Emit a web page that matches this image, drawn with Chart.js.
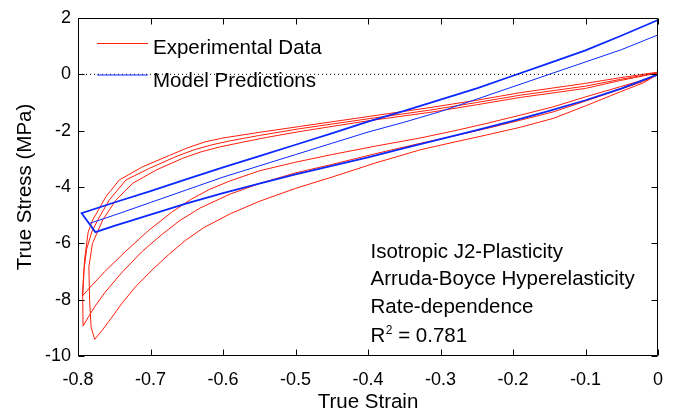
<!DOCTYPE html>
<html><head><meta charset="utf-8">
<script src="https://cdn.jsdelivr.net/npm/chart.js@4"></script>
<style>html,body{margin:0;padding:0;background:#fff;}</style>
</head><body>
<canvas id="c" width="678" height="415"></canvas>
<script>
// ---------- DATA ----------
const xTicks = [-0.8, -0.7, -0.6, -0.5, -0.4, -0.3, -0.2, -0.1, 0];
const yTicks = [-10, -8, -6, -4, -2, 0, 2];

// Experimental loop A (peak ~ -7.9 MPa): loading then unloading
const loopAStrain = [0, -0.02, -0.052, -0.1, -0.144, -0.19, -0.236, -0.28, -0.328, -0.39, -0.45, -0.5, -0.549, -0.59, -0.62, -0.645, -0.67, -0.703, -0.735, -0.763, -0.781, -0.794,
  -0.792, -0.788, -0.781, -0.7728, -0.7568, -0.7338, -0.7017, -0.6648, -0.64, -0.615, -0.59, -0.55, -0.494, -0.4, -0.3145, -0.25, -0.19, -0.1, -0.052, 0];
const loopAStress = [0, -0.2, -0.44, -0.8, -1.15, -1.45, -1.74, -2.0, -2.26, -2.55, -2.85, -3.12, -3.42, -3.78, -4.1, -4.45, -4.88, -5.55, -6.3, -7.0, -7.5, -7.87,
  -7.0, -6.2, -5.6, -5.17, -4.46, -3.75, -3.34, -2.92, -2.68, -2.5, -2.36, -2.17, -1.93, -1.58, -1.27, -1.0, -0.74, -0.42, -0.18, 0.06];

// Experimental loop B (peak ~ -8.9 MPa)
const loopBStrain = [0, -0.02, -0.052, -0.1, -0.144, -0.19, -0.236, -0.28, -0.328, -0.39, -0.45, -0.5, -0.549, -0.59, -0.632, -0.66, -0.685, -0.712, -0.74, -0.763, -0.777, -0.786, -0.793,
  -0.7935, -0.791, -0.786, -0.7797, -0.7614, -0.743, -0.7108, -0.674, -0.65, -0.625, -0.6, -0.55, -0.494, -0.4, -0.3145, -0.25, -0.19, -0.1, -0.052, 0];
const loopBStress = [0, -0.25, -0.53, -0.95, -1.33, -1.63, -1.92, -2.18, -2.45, -2.82, -3.2, -3.5, -3.87, -4.25, -4.75, -5.2, -5.7, -6.3, -7.05, -7.75, -8.25, -8.63, -8.93,
  -7.9, -6.6, -5.6, -5.17, -4.34, -3.75, -3.28, -2.88, -2.62, -2.4, -2.26, -2.06, -1.85, -1.5, -1.18, -0.92, -0.65, -0.32, -0.12, 0.08];

// Experimental loop C (peak ~ -9.4 MPa)
const loopCStrain = [0, -0.02, -0.052, -0.1, -0.144, -0.19, -0.236, -0.28, -0.328, -0.39, -0.45, -0.5, -0.549, -0.59, -0.627, -0.652, -0.675, -0.698, -0.721, -0.74, -0.754, -0.767, -0.777,
  -0.782, -0.784, -0.785, -0.78, -0.7659, -0.7476, -0.7246, -0.6924, -0.6556, -0.63, -0.605, -0.575, -0.54, -0.494, -0.4, -0.3145, -0.25, -0.19, -0.1, -0.052, 0];
const loopCStress = [0, -0.3, -0.62, -1.12, -1.56, -1.88, -2.15, -2.4, -2.68, -3.15, -3.65, -4.05, -4.5, -4.95, -5.45, -5.9, -6.4, -6.95, -7.55, -8.15, -8.65, -9.1, -9.41,
  -8.96, -8.0, -6.83, -6.0, -5.17, -4.46, -3.87, -3.4, -2.98, -2.75, -2.58, -2.42, -2.24, -2.03, -1.65, -1.35, -1.08, -0.82, -0.5, -0.22, 0.05];

// Model predictions: loading branch, main unloading branch, secondary unloading branch
const modelLoadStrain = [0, -0.05, -0.1, -0.15, -0.2, -0.25, -0.3, -0.35, -0.4, -0.45, -0.5, -0.55, -0.6, -0.65, -0.7, -0.75, -0.776];
const modelLoadStress = [0, -0.5, -0.92, -1.3, -1.65, -1.98, -2.3, -2.62, -2.95, -3.25, -3.55, -3.88, -4.22, -4.58, -4.98, -5.38, -5.6];
const modelUnloadStrain = [-0.795, -0.75, -0.7, -0.65, -0.6, -0.55, -0.5, -0.45, -0.4, -0.35, -0.3, -0.25, -0.2, -0.15, -0.1, -0.05, 0];
const modelUnloadStress = [-4.93, -4.55, -4.15, -3.72, -3.3, -2.9, -2.5, -2.1, -1.68, -1.3, -0.9, -0.5, -0.05, 0.4, 0.85, 1.38, 1.93];
const modelThinStrain = [-0.784, -0.75, -0.7, -0.65, -0.6, -0.55, -0.5, -0.45, -0.4, -0.35, -0.3, -0.25, -0.2, -0.15, -0.1, -0.05, 0];
const modelThinStress = [-5.29, -5.0, -4.55, -4.1, -3.65, -3.25, -2.85, -2.45, -2.05, -1.7, -1.32, -0.88, -0.44, 0.0, 0.44, 0.88, 1.40];

const zeroStrain = [-0.8, 0];
const zeroStress = [0, 0];

const legendLabels = ['Experimental Data', 'Model Predictions'];
const noteLines = ['Isotropic J2-Plasticity', 'Arruda-Boyce Hyperelasticity', 'Rate-dependence'];
const rSquared = '0.781';

// ---------- BUILD ----------
const pts = (xs, ys) => xs.map((x, i) => ({x: x, y: ys[i]}));
const RED = 'rgb(255,30,10)';
const BLUE = 'rgb(10,40,255)';
const FONT = '"Liberation Sans", Arial, Helvetica, sans-serif';

const base = {showLine: true, pointRadius: 0, tension: 0, fill: false, clip: 3};
const datasets = [
  Object.assign({}, base, {label: 'zero', data: pts(zeroStrain, zeroStress), borderColor: '#000', borderWidth: 1, borderDash: [1, 3], order: 0}),
  Object.assign({}, base, {label: 'Model', data: pts(modelLoadStrain, modelLoadStress).concat(pts(modelUnloadStrain, modelUnloadStress)), borderColor: BLUE, borderWidth: 1.8, order: 1}),
  Object.assign({}, base, {label: 'Model thin', data: pts(modelThinStrain, modelThinStress), borderColor: BLUE, borderWidth: 1, order: 2}),
  Object.assign({}, base, {label: 'Exp A', data: pts(loopAStrain, loopAStress), borderColor: RED, borderWidth: 1, order: 3}),
  Object.assign({}, base, {label: 'Exp B', data: pts(loopBStrain, loopBStress), borderColor: RED, borderWidth: 1, order: 4}),
  Object.assign({}, base, {label: 'Exp C', data: pts(loopCStrain, loopCStress), borderColor: RED, borderWidth: 1, order: 5}),
];

const framePlugin = {
  id: 'frame',
  afterDatasetsDraw(chart) {
    const ctx = chart.ctx;
    const a = chart.chartArea;
    const xs = chart.scales.x, ys = chart.scales.y;
    const L = Math.round(a.left) + 0.5, R = Math.round(a.right) - 0.5;
    const T = Math.round(a.top) + 0.5, B = Math.round(a.bottom) - 0.5;
    ctx.save();
    ctx.strokeStyle = '#000';
    ctx.lineWidth = 1;
    ctx.beginPath();
    ctx.rect(L, T, R - L, B - T);
    const tl = 6;
    xTicks.forEach(v => {
      const px = Math.round(xs.getPixelForValue(v)) + 0.5;
      ctx.moveTo(px, B); ctx.lineTo(px, B - tl);
      ctx.moveTo(px, T); ctx.lineTo(px, T + tl);
    });
    yTicks.forEach(v => {
      const py = Math.round(ys.getPixelForValue(v)) + 0.5;
      ctx.moveTo(L, py); ctx.lineTo(L + tl, py);
      ctx.moveTo(R, py); ctx.lineTo(R - tl, py);
    });
    ctx.stroke();

    // legend
    const lx = a.left + 19, lw = 51;
    ctx.font = '20.5px ' + FONT;
    ctx.fillStyle = '#000';
    ctx.textBaseline = 'alphabetic';
    ctx.textAlign = 'left';
    [[RED, 43.5, 54.3], [BLUE, 75, 87.3]].forEach((row, i) => {
      ctx.strokeStyle = row[0];
      ctx.beginPath();
      ctx.moveTo(lx, row[1]); ctx.lineTo(lx + lw, row[1]);
      ctx.stroke();
      ctx.fillText(legendLabels[i], lx + lw + 5, row[2]);
    });

    // annotation
    const nx = 370.5;
    const baselines = [257.7, 285.3, 313.3, 341.7];
    noteLines.forEach((t, i) => ctx.fillText(t, nx, baselines[i]));
    ctx.fillText('R', nx, baselines[3]);
    const rw = ctx.measureText('R').width;
    ctx.font = '12px ' + FONT;
    ctx.fillText('2', nx + rw + 0.5, baselines[3] - 8);
    const sw = ctx.measureText('2').width;
    ctx.font = '20.5px ' + FONT;
    ctx.fillText(' = ' + rSquared, nx + rw + sw + 0.5, baselines[3]);
    ctx.restore();
  }
};

new Chart(document.getElementById('c'), {
  type: 'scatter',
  data: {datasets: datasets},
  options: {
    responsive: false,
    devicePixelRatio: 1,
    animation: false,
    layout: {padding: {top: 18, right: 20, left: 0, bottom: 0}},
    plugins: {legend: {display: false}, tooltip: {enabled: false}},
    scales: {
      x: {
        type: 'linear', position: 'bottom', min: -0.8, max: 0,
        grid: {display: false, drawTicks: false},
        border: {display: false},
        afterBuildTicks: s => { s.ticks = xTicks.map(v => ({value: v})); },
        afterFit: s => { s.height = 59; },
        ticks: {color: '#000', font: {family: FONT, size: 18}, padding: 13, maxRotation: 0, autoSkip: false,
          callback: v => (v === 0 ? '0' : Number(v).toFixed(1))},
        title: {display: true, text: 'True Strain', color: '#000', font: {family: FONT, size: 20.5}, padding: {top: 0, bottom: 0}}
      },
      y: {
        type: 'linear', position: 'left', min: -10, max: 2,
        grid: {display: false, drawTicks: false},
        border: {display: false},
        afterBuildTicks: s => { s.ticks = yTicks.map(v => ({value: v})); },
        afterFit: s => { s.width = 78; },
        ticks: {color: '#000', font: {family: FONT, size: 18}, padding: 7, autoSkip: false,
          callback: v => String(v)},
        title: {display: true, text: 'True Stress (MPa)', color: '#000', font: {family: FONT, size: 20.5}, padding: {top: 13, bottom: 0}}
      }
    }
  },
  plugins: [framePlugin]
});
</script>
</body></html>
